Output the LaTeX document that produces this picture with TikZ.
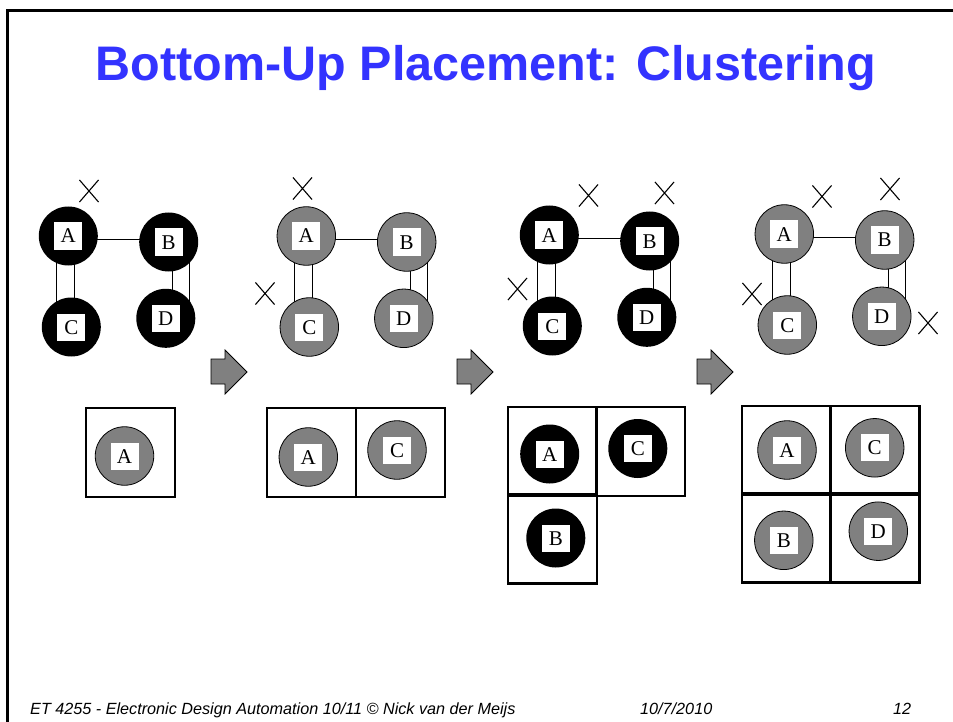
\documentclass[tikz,border=0pt]{standalone}
\usepackage{fontspec}
\setmainfont{Liberation Serif}
\newfontfamily\sansfont{Liberation Sans}
\usetikzlibrary{backgrounds,shapes.misc,calc}
\definecolor{titleblue}{RGB}{51,51,255}
\definecolor{cellgray}{RGB}{128,128,128}

\tikzset{
  blackcell/.style={circle, fill=black, minimum size=59pt, inner sep=0pt},
  graycell/.style={circle, fill=cellgray, draw=black, line width=0.8pt, minimum size=58.5pt, inner sep=0pt},
  tag/.style={fill=white, minimum width=28pt, minimum height=27pt, inner sep=0pt,
              text height=14pt, text depth=0pt, font=\fontsize{21}{21}\selectfont},
  net/.style={line width=0.9pt},
  slot/.style={draw, line width=2.2pt, minimum size=89pt, inner sep=0pt},
  pick/.style={cross out, draw, line width=1.1pt, minimum width=18pt, minimum height=21pt, inner sep=0pt},
  steparrow/.style={fill=cellgray, draw=black, line width=0.8pt},
}

% a cell: circle plus its white letter tag
\newcommand\placecell[4]{%
  \node[#2] (#1) at (#3) {};
  \node[tag] (#1t) at (#1) {#4};}

% the four-cell netlist A,B,C,D with its nets
\newcommand\netlist[2]{%
  \placecell{#1A}{#2}{68.3,236}{A}
  \placecell{#1B}{#2}{168.7,242}{B}
  \placecell{#1C}{#2}{71.3,327}{C}
  \placecell{#1D}{#2}{165.8,318.3}{D}
  \begin{pgfonlayer}{background}
    \draw[net] ($(#1A)+(0,3.3)$) -- ($(#1B)+(0,-2.7)$);
    \draw[net] ($(#1A)+(-11.6,0)$) -- ($(#1C)+(-14.6,0)$);
    \draw[net] ($(#1A)+(6,0)$) -- ($(#1C)+(3,0)$);
    \draw[net] ($(#1B)+(3.6,0)$) -- ($(#1D)+(6.5,0)$);
    \draw[net] ($(#1B)+(20.3,0)$) -- ($(#1D)+(23.2,0)$);
  \end{pgfonlayer}}

% the block arrow between the steps
\newcommand\stepto{%
  \draw[steparrow] (211,359) -- (225,359) -- (225,350) -- (247,372)
    -- (225,394) -- (225,384) -- (211,384) -- cycle;}

\begin{document}
\begin{tikzpicture}[x=1pt,y=-1pt]
  \begin{pgfonlayer}{background}
    \fill[white] (0,0) rectangle (953,722);
  \end{pgfonlayer}
  \useasboundingbox (0,0) rectangle (953,722);

  % slide frame
  \draw[line width=2.5pt] (7.5,722) -- (7.5,10.3) -- (953,10.3);

  % title
  \node[anchor=base, inner sep=0pt, text=titleblue,
        font=\sansfont\bfseries\fontsize{48.5}{50}\selectfont] (title) at (486,81)
        {Bottom-Up Placement: Clustering};

  % step 1
  \netlist{a}{blackcell}
  \node[pick] (xa1) at (89,191) {};

  % step 2
  \begin{scope}[shift={(238,0)}]
    \netlist{b}{graycell}
  \end{scope}
  \node[pick] (xb1) at (302.5,188.5) {};
  \node[pick] (xb2) at (265,293.5) {};

  % step 3
  \begin{scope}[shift={(481,-1)}]
    \netlist{c}{blackcell}
  \end{scope}
  \node[pick] (xc1) at (588.5,195.5) {};
  \node[pick] (xc2) at (664.5,193) {};
  \node[pick] (xc3) at (517.5,289) {};

  % step 4
  \begin{scope}[shift={(716,-2)}]
    \netlist{d}{graycell}
  \end{scope}
  \node[pick] (xd1) at (822,196.5) {};
  \node[pick] (xd2) at (890,189) {};
  \node[pick] (xd3) at (752,294) {};
  \node[pick] (xd4) at (928,323) {};

  % arrows between steps
  \stepto
  \begin{scope}[shift={(246,0)}]\stepto\end{scope}
  \begin{scope}[shift={(486,0)}]\stepto\end{scope}

  % placements
  \node[slot] (p1a) at (130.5,452.5) {};
  \placecell{q1A}{graycell}{124.5,456}{A}

  \node[slot] (p2a) at (311.6,452.5) {};
  \node[slot] (p2b) at (400.2,452.5) {};
  \placecell{q2A}{graycell}{308.3,457}{A}
  \placecell{q2C}{graycell}{397,450}{C}

  \node[slot] (p3a) at (552.5,451.3) {};
  \node[slot] (p3b) at (640.8,451.3) {};
  \node[slot] (p3c) at (552.5,539) {};
  \placecell{q3A}{blackcell}{549.7,454}{A}
  \placecell{q3C}{blackcell}{637.8,448.5}{C}
  \placecell{q3B}{blackcell}{555.8,538}{B}

  \node[slot] (p4a) at (786.5,450.2) {};
  \node[slot] (p4b) at (875,450.2) {};
  \node[slot] (p4c) at (786.5,538) {};
  \node[slot] (p4d) at (875,538) {};
  \placecell{q4A}{graycell}{787,450}{A}
  \placecell{q4C}{graycell}{874.7,447.8}{C}
  \placecell{q4B}{graycell}{783.8,540.3}{B}
  \placecell{q4D}{graycell}{878.3,531.2}{D}

  % footer
  \begin{scope}[every node/.style={anchor=base west, inner sep=0pt,
                font=\sansfont\itshape\fontsize{16.2}{16.2}\selectfont}]
    \node (course) at (30,714) {ET 4255 - Electronic Design Automation 10/11 © Nick van der Meijs};
    \node (date) at (640,714) {10/7/2010};
    \node (page) at (893,714) {12};
  \end{scope}
\end{tikzpicture}
\end{document}
